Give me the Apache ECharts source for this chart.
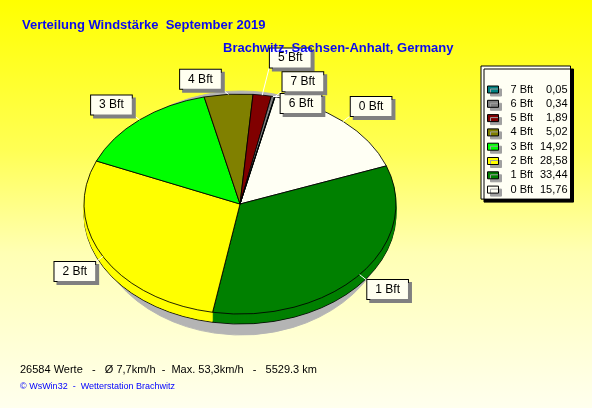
<!DOCTYPE html>
<html>
<head>
<meta charset="utf-8">
<script src="https://cdn.jsdelivr.net/npm/echarts@6/dist/echarts.min.js"></script>
<style>
html,body{margin:0;padding:0;}
#chart{width:592px;height:408px;}
</style>
</head>
<body>
<div id="chart"></div>
<script>
// ---- data ----
const categories = ['0 Bft', '1 Bft', '2 Bft', '3 Bft', '4 Bft', '5 Bft', '6 Bft', '7 Bft'];
const percentages = [15.76, 33.44, 28.58, 14.92, 5.02, 1.89, 0.34, 0.05];
const percentLabels = ['15,76', '33,44', '28,58', '14,92', '5,02', '1,89', '0,34', '0,05'];
const legendOrder = ['7 Bft', '6 Bft', '5 Bft', '4 Bft', '3 Bft', '2 Bft', '1 Bft', '0 Bft'];
const titleText = 'Verteilung Windstärke  September 2019';
const subtitleText = 'Brachwitz, Sachsen-Anhalt, Germany';
const footerText = '26584 Werte   -   Ø 7,7km/h  -  Max. 53,3km/h   -   5529.3 km';
const creditText = '© WsWin32  -  Wetterstation Brachwitz';

// ---- style ----
const palette = ['#FFFFF4', '#008000', '#FFFF00', '#00FF00', '#808000', '#800000', '#808080', '#008080'];
const FONT = '"Liberation Sans", Arial, sans-serif';

// ---- pie geometry (layout) ----
const cx = 240, cy = 204, rx = 156, ry = 110, depth = 10;
const startDeg = 13; // clockwise from 12 o'clock
const sh = {cx: 241, cy: 213, rx: 150, ry: 122};

const total = percentages.reduce((a, b) => a + b, 0);
const slices = [];
let acc = startDeg;
percentages.forEach((v, i) => {
  const span = v / total * 360;
  slices.push({s: acc, e: acc + span, m: acc + span / 2});
  acc += span;
});

// label placement with simple collision avoidance
const BW = 42, BH = 19;
const labelPos = new Array(categories.length);
const order = percentages.map((v, i) => i).sort((a, b) => percentages[a] - percentages[b]);
const placed = [];
function overlaps(x, y) {
  return placed.some(p => Math.abs(p.x - x) < BW + 2 && Math.abs(p.y - y) < BH + 2);
}
order.forEach(i => {
  const t = slices[i].m * Math.PI / 180;
  const ex = cx + rx * Math.sin(t), ey = cy - ry * Math.cos(t);
  const bx = ex + (Math.sin(t) >= 0 ? 28 : -28);
  const by = ey + (Math.cos(t) >= 0 ? -15 : 15);
  const tries = [0, 22, -22, 44, -44];
  let y = by;
  for (const d of tries) { if (!overlaps(bx, by + d)) { y = by + d; break; } }
  placed.push({x: bx, y: y});
  const lx = Math.min(Math.max(ex, bx - BW / 2), bx + BW / 2);
  const ly = Math.min(Math.max(ey, y - BH / 2), y + BH / 2);
  labelPos[i] = {x: bx, y: y, ex: ex, ey: ey, lx: lx, ly: ly};
});

function rad(deg) { return (deg - 90) * Math.PI / 180; }

const chart = echarts.init(document.getElementById('chart'), null, {renderer: 'canvas'});
chart.setOption({
  animation: false,
  backgroundColor: {
    type: 'linear', x: 0, y: 0, x2: 0, y2: 1,
    colorStops: [
      {offset: 0, color: '#FFFF00'},
      {offset: 0.37, color: '#FFFF55'},
      {offset: 0.62, color: '#FFFFB4'},
      {offset: 1, color: '#FFFFEE'}
    ]
  },
  title: [
    {text: titleText, left: 22, top: 19, padding: 0,
     textStyle: {color: '#0A0AF0', fontSize: 13, fontWeight: 'bold', fontFamily: FONT}},
    {text: subtitleText, left: 223, top: 42, padding: 0,
     textStyle: {color: '#0A0AF0', fontSize: 13, fontWeight: 'bold', fontFamily: FONT}},
    {text: footerText, left: 20, top: 364, padding: 0,
     textStyle: {color: '#000', fontSize: 11, fontWeight: 'normal', fontFamily: FONT}},
    {text: creditText, left: 20, top: 382, padding: 0,
     textStyle: {color: '#0000FF', fontSize: 9, fontWeight: 'normal', fontFamily: FONT}}
  ],
  legend: {
    orient: 'vertical', left: 481, top: 66,
    data: legendOrder,
    backgroundColor: '#FFFFF4', borderColor: '#000', borderWidth: 1,
    shadowColor: '#000', shadowOffsetX: 3, shadowOffsetY: 3, shadowBlur: 0,
    padding: [18, 3, 4, 6],
    itemWidth: 11, itemHeight: 7, itemGap: 3.3,
    icon: 'rect',
    selectedMode: false,
    itemStyle: {borderColor: '#000', borderWidth: 1, shadowColor: '#A0A0A0', shadowOffsetX: 3, shadowOffsetY: 3, shadowBlur: 0},
    formatter: function (name) {
      const i = categories.indexOf(name);
      return '{n|' + name + '}{v|' + percentLabels[i] + '}';
    },
    textStyle: {
      color: '#000', fontFamily: FONT, fontSize: 11,
      rich: {
        n: {width: 27, padding: [0, 0, 0, 7], fontSize: 11, fontFamily: FONT, lineHeight: 12},
        v: {width: 30, align: 'right', fontSize: 11, fontFamily: FONT, lineHeight: 12}
      }
    }
  },
  graphic: [
    {type: 'text', left: 549, top: 69, style: {text: '%', fill: '#000', font: '11px ' + FONT}}
  ],
  series: [
    {
      type: 'pie', name: 'legend', radius: [0, 0], center: [-50, -50],
      silent: true, label: {show: false}, labelLine: {show: false},
      data: categories.map((c, i) => ({name: c, value: percentages[i], itemStyle: {color: palette[i]}}))
    },
    {
      type: 'custom', coordinateSystem: 'none', silent: true,
      data: percentages,
      renderItem: function (params, api) {
        const i = params.dataIndex;
        const sl = slices[i];
        const a0 = rad(sl.s), a1 = rad(sl.e);
        const col = palette[i];
        const children = [];
        children.push({
          type: 'sector', z2: 0,
          shape: {cx: sh.cx, cy: sh.cy, r: sh.rx, r0: 0, startAngle: a0, endAngle: a1, clockwise: true},
          scaleY: sh.ry / sh.rx, originX: sh.cx, originY: sh.cy,
          style: {fill: '#B4B4B4', stroke: '#B4B4B4', lineWidth: 1}
        });
        for (let d = depth; d >= 1; d--) {
          children.push({
            type: 'sector', z2: 11 - d, y: d,
            shape: {cx: cx, cy: cy, r: rx, r0: 0, startAngle: a0, endAngle: a1, clockwise: true},
            scaleY: ry / rx, originX: cx, originY: cy,
            style: d === depth
              ? {fill: col, stroke: '#000', lineWidth: 1, strokeNoScale: true}
              : {fill: col, stroke: col, lineWidth: 0.5, strokeNoScale: true}
          });
        }
        children.push({
          type: 'sector', z2: 20,
          shape: {cx: cx, cy: cy, r: rx, r0: 0, startAngle: a0, endAngle: a1, clockwise: true},
          scaleY: ry / rx, originX: cx, originY: cy,
          style: {fill: col, stroke: '#000', lineWidth: 1, strokeNoScale: true}
        });
        const lp = labelPos[i];
        children.push({
          type: 'line', z2: 25,
          shape: {x1: lp.ex, y1: lp.ey, x2: lp.lx, y2: lp.ly},
          style: {stroke: '#FFFFFF', lineWidth: 1}
        });
        children.push({
          type: 'text', z2: 30, x: lp.x, y: lp.y,
          style: {
            text: categories[i], fill: '#000', font: '12px ' + FONT,
            align: 'center', verticalAlign: 'middle',
            backgroundColor: '#FFFFF0', borderColor: '#000', borderWidth: 1,
            padding: [3, 8, 2, 8], lineHeight: 14,
            shadowColor: '#808080', shadowOffsetX: 3, shadowOffsetY: 3, shadowBlur: 0
          }
        });
        return {type: 'group', children: children};
      }
    }
  ]
});
</script>
</body>
</html>
